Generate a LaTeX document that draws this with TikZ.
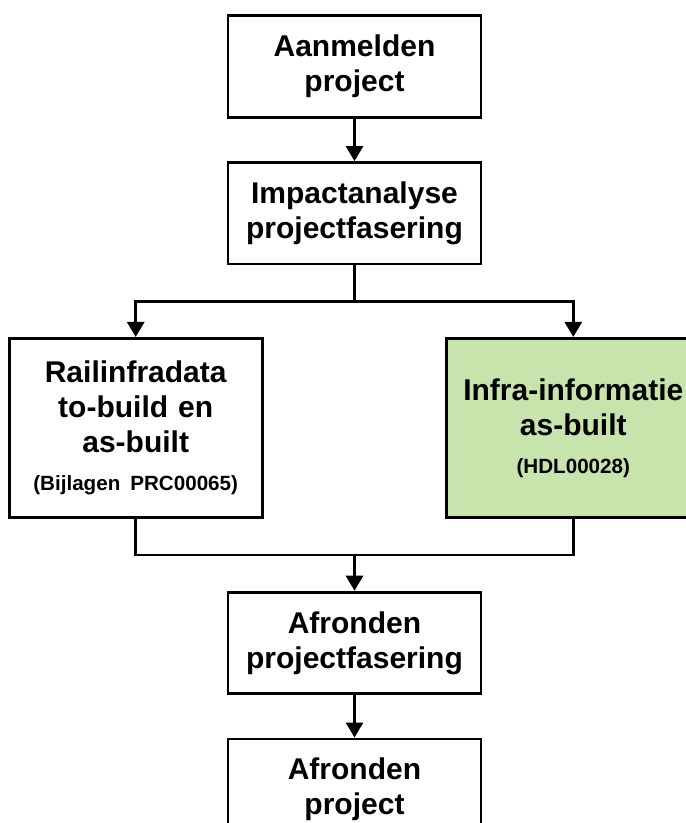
\documentclass[tikz,border=0pt]{standalone}
\usepackage{fontspec}
\setmainfont{Liberation Sans}
\usetikzlibrary{matrix,calc,arrows.meta}
\definecolor{asbuiltgreen}{RGB}{199,228,172}
\newcommand{\smalltag}[1]{{\fontsize{10.3}{17.5}\selectfont #1}}
\tikzset{
  stepbox/.style  = {shape=rectangle, draw, anchor=center,
                     text width=122.5pt, align=center,
                     minimum height=50.75pt, inner sep=2pt,
                     font=\bfseries\fontsize{15}{17.5}\selectfont},
  databox/.style  = {stepbox, minimum height=89.75pt},
  greenbox/.style = {databox, fill=asbuiltgreen},
}

\begin{document}
\begin{tikzpicture}[-{Triangle[width=8.5pt,length=7.5pt]}, line width=1.4pt]
  \matrix (chart)
    [
      matrix of nodes,
      column sep   = -18.5pt,
      row sep      = 21.25pt,
      nodes        = {stepbox},
      row 3/.style = {nodes={databox}}
    ]
    {
                      & {Aanmelden\\project}             & \\
                      & {Impactanalyse\\projectfasering} & \\[14.5pt]
      {Railinfradata\\to-build en\\as-built\\[1.5pt]\smalltag{(Bijlagen PRC00065)}}
                      &  & |[greenbox]| {Infra-informatie\\as-built\\[1.5pt]\smalltag{(HDL00028)}} \\[14.5pt]
                      & {Afronden\\projectfasering}      & \\
                      & {Afronden\\project}              & \\
    };
     \coordinate (split) at ($(chart-2-2.south)!0.5!(chart-2-2.south |- chart-3-1.north)$);
     \coordinate (merge) at ($(chart-4-2.north)!0.5!(chart-4-2.north |- chart-3-1.south)$);
     \draw   (chart-1-2) -- (chart-2-2);
     \draw[-]   (chart-2-2) -- (split);
     \draw   (split) -| (chart-3-1);
     \draw   (split) -| (chart-3-3);
     \draw[-]   (chart-3-1) |- (merge) -| (chart-3-3);
     \draw   (merge) -- (chart-4-2);
     \draw   (chart-4-2) -- (chart-5-2);
     \pgfresetboundingbox
     \path[use as bounding box] ($(chart-1-2.center)+(-177.25pt,33.25pt)$) rectangle ++(342.5pt,-411.5pt);
   \end{tikzpicture}
\end{document}
